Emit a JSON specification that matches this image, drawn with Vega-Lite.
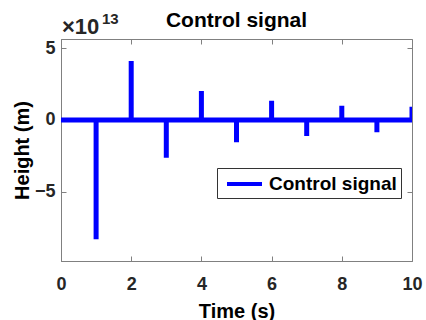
{
  "$schema": "https://vega.github.io/schema/vega-lite/v6.json",
  "width": 351,
  "height": 222,
  "autosize": {"type": "none"},
  "padding": {"left": 61, "top": 39, "right": 14, "bottom": 59},
  "background": "white",
  "config": {
    "font": "Liberation Sans",
    "view": {"stroke": "#808080", "strokeWidth": 1},
    "axis": {"domainColor": "#808080", "tickColor": "#808080", "labelColor": "#262626", "titleColor": "#000000", "grid": false}
  },
  "title": {"text": "Control signal", "fontSize": 21, "fontWeight": "bold", "color": "#000000", "offset": -19, "anchor": "middle"},
  "data": {"values": [
    {"t": 0, "v": 0, "o": 0},
    {"t": 1, "v": 0, "o": 1}, {"t": 1, "v": -8.33, "o": 2}, {"t": 1, "v": 0, "o": 3},
    {"t": 2, "v": 0, "o": 4}, {"t": 2, "v": 4.12, "o": 5}, {"t": 2, "v": 0, "o": 6},
    {"t": 3, "v": 0, "o": 7}, {"t": 3, "v": -2.63, "o": 8}, {"t": 3, "v": 0, "o": 9},
    {"t": 4, "v": 0, "o": 10}, {"t": 4, "v": 2.02, "o": 11}, {"t": 4, "v": 0, "o": 12},
    {"t": 5, "v": 0, "o": 13}, {"t": 5, "v": -1.56, "o": 14}, {"t": 5, "v": 0, "o": 15},
    {"t": 6, "v": 0, "o": 16}, {"t": 6, "v": 1.35, "o": 17}, {"t": 6, "v": 0, "o": 18},
    {"t": 7, "v": 0, "o": 19}, {"t": 7, "v": -1.12, "o": 20}, {"t": 7, "v": 0, "o": 21},
    {"t": 8, "v": 0, "o": 22}, {"t": 8, "v": 1.0, "o": 23}, {"t": 8, "v": 0, "o": 24},
    {"t": 9, "v": 0, "o": 25}, {"t": 9, "v": -0.86, "o": 26}, {"t": 9, "v": 0, "o": 27},
    {"t": 10, "v": 0, "o": 28}, {"t": 10, "v": 0.93, "o": 29}
  ]},
  "resolve": {"scale": {"x": "independent", "y": "independent"}, "axis": {"x": "independent", "y": "independent"}},
  "layer": [
    {
      "mark": {"type": "line", "strokeWidth": 5, "strokeCap": "butt", "strokeJoin": "miter", "clip": true},
      "transform": [{"calculate": "'Control signal'", "as": "series"}],
      "encoding": {
        "x": {"field": "t", "type": "quantitative", "scale": {"domain": [0, 10], "nice": false, "zero": false},
              "axis": {"values": [0, 2, 4, 6, 8, 10], "title": "Time (s)", "titleFontSize": 20, "titleFontWeight": "bold", "titlePadding": 8,
                       "labelFontSize": 18, "labelFontWeight": "bold", "labelPadding": 19, "tickSize": -5, "labelFlush": false}},
        "y": {"field": "v", "type": "quantitative", "scale": {"domain": [-9.84, 5.65], "nice": false, "zero": false},
              "axis": {"values": [-5, 0, 5], "title": "Height (m)", "titleFontSize": 20, "titleFontWeight": "bold", "titlePadding": 2,
                       "labelFontSize": 18, "labelFontWeight": "bold", "labelPadding": 11, "tickSize": -5}},
        "order": {"field": "o", "type": "quantitative"},
        "color": {"field": "series", "type": "nominal", "scale": {"range": ["#0000FF"]},
                  "legend": {"title": null, "orient": "none", "legendX": 156, "legendY": 129,
                             "symbolType": "M-0.6,0H2.9", "symbolSize": 400, "symbolStrokeWidth": 4, "symbolStrokeColor": "#0000FF",
                             "labelFontSize": 19, "labelFontWeight": "bold", "labelColor": "#000000", "labelOffset": 24,
                             "strokeColor": "#333333", "fillColor": "white", "padding": 4}}
      }
    },
    {
      "mark": {"type": "point", "opacity": 0},
      "encoding": {
        "x": {"field": "t", "type": "quantitative", "scale": {"domain": [0, 10], "nice": false, "zero": false},
              "axis": {"orient": "top", "values": [0, 2, 4, 6, 8, 10], "labels": false, "title": null, "domain": false, "tickSize": -5}},
        "y": {"field": "v", "type": "quantitative", "scale": {"domain": [-9.84, 5.65], "nice": false, "zero": false},
              "axis": {"orient": "right", "values": [-5, 0, 5], "labels": false, "title": null, "domain": false, "tickSize": -5}}
      }
    },
    {
      "mark": {"type": "text", "align": "left", "baseline": "alphabetic", "fontSize": 22, "fontWeight": "bold", "dx": 1, "dy": -5, "color": "#262626"},
      "data": {"values": [{"t": 0, "v": 5.65, "label": "×10"}]},
      "encoding": {
        "x": {"field": "t", "type": "quantitative", "scale": {"domain": [0, 10], "nice": false, "zero": false}, "axis": null},
        "y": {"field": "v", "type": "quantitative", "scale": {"domain": [-9.84, 5.65], "nice": false, "zero": false}, "axis": null},
        "text": {"field": "label"}
      }
    },
    {
      "mark": {"type": "text", "align": "left", "baseline": "alphabetic", "fontSize": 15, "fontWeight": "bold", "dx": 41, "dy": -15, "color": "#262626"},
      "data": {"values": [{"t": 0, "v": 5.65, "label": "13"}]},
      "encoding": {
        "x": {"field": "t", "type": "quantitative", "scale": {"domain": [0, 10], "nice": false, "zero": false}, "axis": null},
        "y": {"field": "v", "type": "quantitative", "scale": {"domain": [-9.84, 5.65], "nice": false, "zero": false}, "axis": null},
        "text": {"field": "label"}
      }
    }
  ]
}
